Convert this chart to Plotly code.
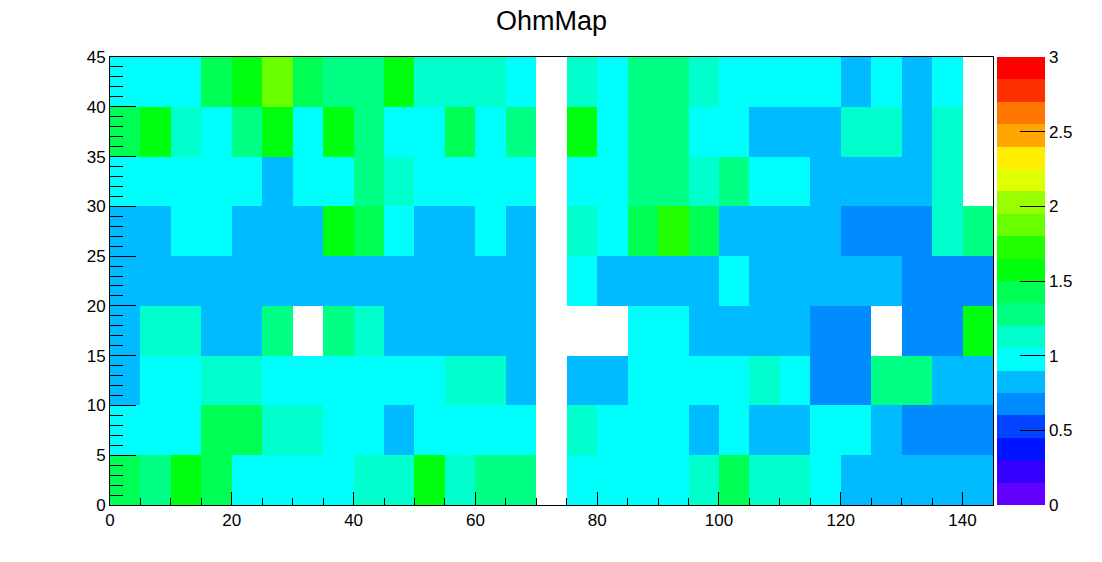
import plotly.graph_objects as go

# ---- data -------------------------------------------------------------
x_centers = [2.5, 7.5, 12.5, 17.5, 22.5, 27.5, 32.5, 37.5, 42.5, 47.5,
             52.5, 57.5, 62.5, 67.5, 72.5, 77.5, 82.5, 87.5, 92.5, 97.5,
             102.5, 107.5, 112.5, 117.5, 122.5, 127.5, 132.5, 137.5, 142.5]
y_centers = [2.5, 7.5, 12.5, 17.5, 22.5, 27.5, 32.5, 37.5, 42.5]

N = None
# rows from y=0-5 (bottom) to y=40-45 (top); 29 columns each
row_0 = [1.42, 1.28, 1.58, 1.42, 0.98, 0.98, 0.98, 0.98, 1.12, 1.12, 1.58, 1.12, 1.28, 1.28, N,
         0.98, 0.98, 0.98, 0.98, 1.12, 1.42, 1.12, 1.12, 0.98, 0.82, 0.82, 0.82, 0.82, 0.82]
row_1 = [0.98, 0.98, 0.98, 1.42, 1.42, 1.12, 1.12, 0.98, 0.98, 0.82, 0.98, 0.98, 0.98, 0.98, N,
         1.12, 0.98, 0.98, 0.98, 0.82, 0.98, 0.82, 0.82, 0.98, 0.98, 0.82, 0.68, 0.68, 0.68]
row_2 = [0.82, 0.98, 0.98, 1.12, 1.12, 0.98, 0.98, 0.98, 0.98, 0.98, 0.98, 1.12, 1.12, 0.82, N,
         0.82, 0.82, 0.98, 0.98, 0.98, 0.98, 1.12, 0.98, 0.68, 0.68, 1.28, 1.28, 0.82, 0.82]
row_3 = [0.82, 1.12, 1.12, 0.82, 0.82, 1.28, N, 1.28, 1.12, 0.82, 0.82, 0.82, 0.82, 0.82, N,
         N, N, 0.98, 0.98, 0.82, 0.82, 0.82, 0.82, 0.68, 0.68, N, 0.68, 0.68, 1.58]
row_4 = [0.82, 0.82, 0.82, 0.82, 0.82, 0.82, 0.82, 0.82, 0.82, 0.82, 0.82, 0.82, 0.82, 0.82, N,
         0.98, 0.82, 0.82, 0.82, 0.82, 0.98, 0.82, 0.82, 0.82, 0.82, 0.82, 0.68, 0.68, 0.68]
row_5 = [0.82, 0.82, 0.98, 0.98, 0.82, 0.82, 0.82, 1.58, 1.42, 0.98, 0.82, 0.82, 0.98, 0.82, N,
         1.12, 0.98, 1.42, 1.72, 1.42, 0.82, 0.82, 0.82, 0.82, 0.68, 0.68, 0.68, 1.12, 1.28]
row_6 = [0.98, 0.98, 0.98, 0.98, 0.98, 0.82, 0.98, 0.98, 1.28, 1.12, 0.98, 0.98, 0.98, 0.98, N,
         0.98, 0.98, 1.28, 1.28, 1.12, 1.28, 0.98, 0.98, 0.82, 0.82, 0.82, 0.82, 1.12, N]
row_7 = [1.42, 1.58, 1.12, 0.98, 1.28, 1.58, 0.98, 1.58, 1.28, 0.98, 0.98, 1.42, 0.98, 1.28, N,
         1.58, 0.98, 1.28, 1.28, 0.98, 0.98, 0.82, 0.82, 0.82, 1.12, 1.12, 0.82, 1.12, N]
row_8 = [0.98, 0.98, 0.98, 1.42, 1.58, 1.88, 1.42, 1.28, 1.28, 1.58, 1.12, 1.12, 1.12, 0.98, N,
         1.12, 0.98, 1.28, 1.28, 1.12, 0.98, 0.98, 0.98, 0.98, 0.82, 0.98, 0.82, 0.98, N]

z_values = [row_0, row_1, row_2, row_3, row_4, row_5, row_6, row_7, row_8]

cbar_ticks = [0, 0.5, 1, 1.5, 2, 2.5, 3]
cbar_ticktext = ["0", "0.5", "1", "1.5", "2", "2.5", "3"]

# ---- palette (ROOT pretty palette, 20 contour levels) ---------------
palette = ["rgb(99,0,255)", "rgb(51,0,255)", "rgb(0,20,255)", "rgb(0,68,255)",
           "rgb(0,139,255)", "rgb(0,187,255)", "rgb(0,255,252)", "rgb(0,255,204)",
           "rgb(0,255,133)", "rgb(0,255,85)", "rgb(0,255,14)", "rgb(34,255,0)",
           "rgb(105,255,0)", "rgb(153,255,0)", "rgb(224,255,0)", "rgb(255,238,0)",
           "rgb(255,167,0)", "rgb(255,119,0)", "rgb(255,48,0)", "rgb(255,0,0)"]
nlev = len(palette)
colorscale = []
for k, c in enumerate(palette):
    colorscale.append([k / nlev, c])
    colorscale.append([(k + 1) / nlev, c])

FONT = "Liberation Sans, Arial, sans-serif"

fig = go.Figure(go.Heatmap(
    x=x_centers, y=y_centers, z=z_values,
    zmin=0, zmax=3, colorscale=colorscale,
    hoverongaps=False,
    colorbar=dict(
        x=(997 - 110) / 883, xanchor="left", xpad=0,
        y=0.5, yanchor="middle", ypad=0,
        len=448, lenmode="pixels",
        thickness=48, thicknessmode="pixels",
        outlinewidth=0,
        tickmode="array", tickvals=cbar_ticks, ticktext=cbar_ticktext,
        ticks="inside", ticklen=25, tickwidth=1, tickcolor="black",
        tickfont=dict(family=FONT, size=17, color="black"),
    ),
))

fig.update_layout(
    width=1102, height=562,
    margin=dict(l=110, r=109, t=57, b=57, autoexpand=False),
    paper_bgcolor="white", plot_bgcolor="white",
    title=dict(text="OhmMap", x=0.5, xref="paper", xanchor="center",
               y=0.963, yref="container", yanchor="middle",
               font=dict(family=FONT, size=27, color="black")),
    xaxis=dict(range=[0, 145], showgrid=False, zeroline=False,
               showline=True, linecolor="black", linewidth=1, mirror=True,
               tick0=0, dtick=20, ticks="inside", ticklen=13, tickcolor="black",
               minor=dict(dtick=5, ticks="inside", ticklen=7, tickcolor="black"),
               tickfont=dict(family=FONT, size=17, color="black")),
    yaxis=dict(range=[0, 45], showgrid=False, zeroline=False,
               showline=True, linecolor="black", linewidth=1, mirror=True,
               tick0=0, dtick=5, ticks="inside", ticklen=26, tickcolor="black",
               minor=dict(dtick=1, ticks="inside", ticklen=13, tickcolor="black"),
               tickfont=dict(family=FONT, size=17, color="black")),
)

fig.write_html("out.html", config={"displayModeBar": False},
               post_script="document.body.style.margin='0';")
